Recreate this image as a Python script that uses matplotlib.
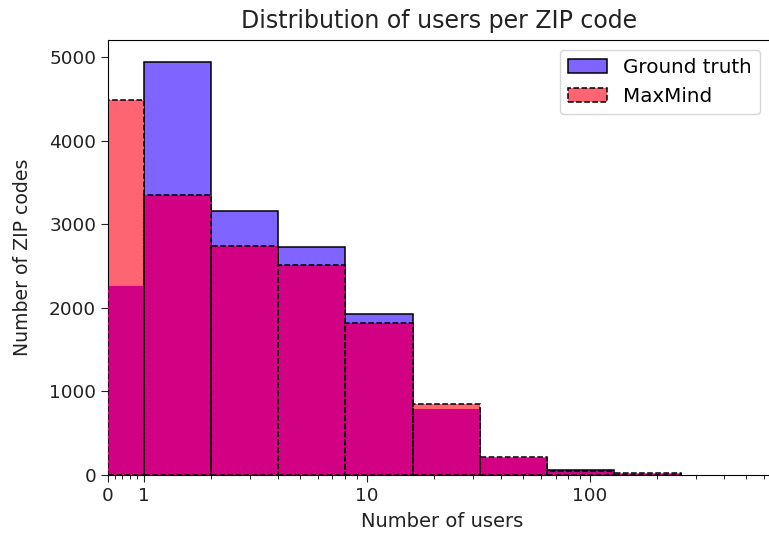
import numpy as np
import matplotlib
matplotlib.use("Agg")
import matplotlib.pyplot as plt
from matplotlib.patches import Patch

# histogram bin edges (number of users) and counts of ZIP codes per bin
bin_edges = [0, 1, 2, 4, 8, 16, 32, 64, 128, 256]
ground_truth = [2260, 4940, 3160, 2730, 1930, 790, 200, 55, 10]
maxmind = [4480, 3350, 2740, 2510, 1820, 850, 215, 48, 28]

series_labels = ["Ground truth", "MaxMind"]
x_ticks = [0, 1, 10, 100]
y_ticks = [0, 1000, 2000, 3000, 4000, 5000]

blue = "#8064ff"
red = "#ff6473"
overlap = "#d20082"
text_col = "#222222"

fig = plt.figure(figsize=(7.69, 5.37), dpi=100)
ax = fig.add_axes([108 / 769, 62 / 537, 662 / 769, 435 / 537])
ax.set_xscale("symlog", linthresh=1, linscale=0.1453)

left = np.array(bin_edges[:-1], dtype=float)
gt = np.array(ground_truth, dtype=float)
mm = np.array(maxmind, dtype=float)

# fills: blue, then red, then the part where both overlap
ax.hist(left, bins=bin_edges, weights=gt, color=blue, zorder=1)
ax.hist(left, bins=bin_edges, weights=mm, color=red, zorder=2)
ax.hist(left, bins=bin_edges, weights=np.minimum(gt, mm), color=overlap, zorder=3)

# outlines
ax.hist(left, bins=bin_edges, weights=gt, facecolor="none", edgecolor="black",
        linewidth=1.1, zorder=1.5)
ax.hist(left, bins=bin_edges, weights=mm, facecolor="none", edgecolor="black",
        linewidth=1.1, linestyle="--", zorder=4)

ax.set_xlim(0, 641)
ax.set_ylim(0, 5203)
ax.set_xticks(x_ticks)
ax.set_xticklabels([str(t) for t in x_ticks])
minor = [0.2, 0.4, 0.6, 0.8] + list(range(2, 10)) + list(range(20, 100, 10)) + list(range(200, 700, 100))
ax.set_xticks(minor, minor=True)
ax.set_yticks(y_ticks)
ax.tick_params(axis="both", labelsize=13.3, colors=text_col, length=5)
ax.tick_params(axis="x", which="minor", length=3)

ax.set_xlabel("Number of users", fontsize=14, color=text_col, x=0.505, labelpad=5)
ax.set_ylabel("Number of ZIP codes", fontsize=13.6, color=text_col, labelpad=12)
ax.set_title("Distribution of users per ZIP code", fontsize=17, color=text_col, pad=8.5)

handles = [Patch(facecolor=blue, edgecolor="black", linewidth=1.1),
           Patch(facecolor=red, edgecolor="black", linewidth=1.1, linestyle="--")]
ax.legend(handles, series_labels, loc="upper right", fontsize=14.3,
          handlelength=2.0, borderaxespad=0.5)

fig.savefig("out.png", dpi=100)
